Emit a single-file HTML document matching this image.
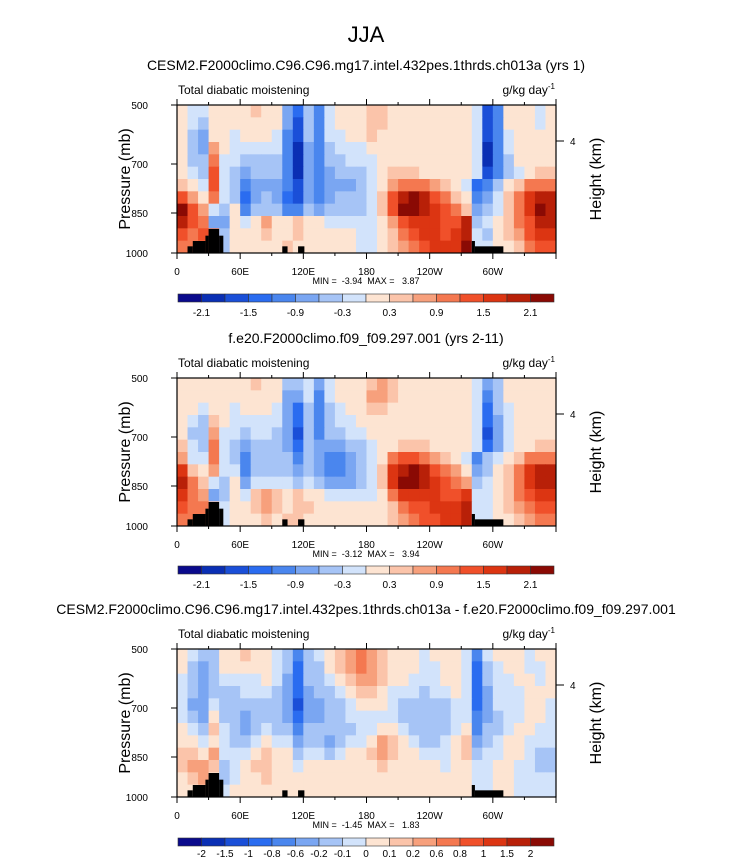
<!DOCTYPE html>
<html><head><meta charset="utf-8"><style>
body{margin:0;background:#fff;}
svg{display:block;font-family:"Liberation Sans",sans-serif;}
</style></head><body>
<svg id="fig" width="732" height="861" viewBox="0 0 732 861">
<text x="366" y="42" font-size="22" text-anchor="middle">JJA</text>
</svg>
<script>
const lonTicks=[0,60,120,180,240,300];
const lonLabels=["0","60E","120E","180","120W","60W"];
const presTicks=[500,700,850,1000];
const cb1Labels=["-2.1","-1.5","-0.9","-0.3","0.3","0.9","1.5","2.1"];
const cb3Labels=["-2","-1.5","-1","-0.8","-0.6","-0.2","-0.1","0","0.1","0.2","0.6","0.8","1","1.5","2"];
const titles=["CESM2.F2000climo.C96.C96.mg17.intel.432pes.1thrds.ch013a (yrs 1)","f.e20.F2000climo.f09_f09.297.001 (yrs 2-11)","CESM2.F2000climo.C96.C96.mg17.intel.432pes.1thrds.ch013a - f.e20.F2000climo.f09_f09.297.001"];
const minMax=["MIN =  -3.94  MAX =   3.87","MIN =  -3.12  MAX =   3.94","MIN =  -1.45  MAX =   1.83"];
const grid1=[
"877888 898853 647888 998888 888872 488878",
"876888 888852 647888 998888 888872 488878",
"865887 888742 647788 988888 888872 478888",
"865a87 777741 546777 888888 888871 478888",
"866b77 666641 546677 788888 888871 468888",
"876c76 566641 545666 789998 888872 467899",
"987c76 455542 545556 78abbb a98734 689bbb",
"ca8b76 356532 545666 79cefe cb9845 79bdee",
"fca768 466644 656666 79cffe dcb956 79bdfe",
"ecb558 78a889 887777 78acdd dcce67 89bcee",
"cbcb68 889889 888887 789bcd dcde76 89acdd",
"bbbb68 888898 888887 789abc dddf77 889bcc"];
const grid2=[
"888888 898866 757888 9a9888 888875 688888",
"888888 888855 747888 aa9888 888874 688888",
"887887 888753 646788 998888 888873 678888",
"876987 777753 646778 888888 888873 578888",
"866a77 677652 646677 888888 888872 578888",
"976b76 566653 655566 788999 888873 578899",
"a77b76 466664 654456 78bccb a98746 789bbb",
"d98a77 466665 654456 79defe cba856 89bdee",
"eb9768 577776 765556 79dffe dcba67 89bdee",
"dba568 79a989 887777 78bddd dccd77 89bcdd",
"cbb978 89a989 988888 889bcc ddde77 89abcc",
"bbba78 889899 888888 889abc cdde77 889abb"];
const grid3=[
"876688 988764 6789ab a98887 888747 888788",
"865688 888763 6689ab a98887 788736 788778",
"765677 778753 66789a a98877 788736 778878",
"765666 777653 566789 987776 778735 777888",
"755766 666652 556678 887666 667735 777887",
"765866 566653 556677 777666 667745 677887",
"876976 567664 666667 788766 667846 678877",
"887876 678775 665677 8a9876 678956 788777",
"998a77 789886 776788 9a9887 778967 788766",
"9aa967 899887 888888 898888 878877 887766",
"89a867 889888 888888 888888 888877 887777",
"889878 888888 888888 888888 888877 887777"];
const terrainLon=[[10,15],[15,27],[27,30],[30,40],[40,44],[100,105],[115,121],[280,283],[283,310]];
const terrainP=[975,955,935,910,935,975,975,955,975];
const colors=["#0a0a8c","#0a2fb4","#1a4fd8","#2a6cf0","#4a86ee","#7aa6f2","#a6c4f6","#d2e3fb","#fde4d2","#fbc4aa","#f7a07c","#f47850","#f0502a","#dc3512","#b82008","#8a0a04"];
const NS="http://www.w3.org/2000/svg";
const svg=document.getElementById('fig');
function el(t,a,p){const e=document.createElementNS(NS,t);for(const k in a)e.setAttribute(k,a[k]);(p||svg).appendChild(e);return e;}
const X0=177,X1=556,PH=148;
function xLon(l){return X0+l/360*(X1-X0);}
const pPix=[0,59,108,148];
function yP(top,p){for(let i=0;i<3;i++){if(p<=presTicks[i+1]){const f=(p-presTicks[i])/(presTicks[i+1]-presTicks[i]);return top+pPix[i]+f*(pPix[i+1]-pPix[i]);}}return top+PH;}
function fixRow(r){r=r.replace(/\s/g,'');while(r.length<36)r+=r[r.length-1];return r.slice(0,36);}
const panels=[{top:105,grid:grid1,cb:cb1Labels,ty:70,cby:294},{top:378,grid:grid2,cb:cb1Labels,ty:343,cby:566},{top:649,grid:grid3,cb:cb3Labels,ty:614,cby:838}];
panels.forEach((P,pi)=>{
  const g=el('g',{});
  
  
  const t=el('text',{x:366,y:P.ty,'font-size':14,'text-anchor':'middle'},g);t.textContent=titles[pi];
  
  const top=P.top;
  const nr=P.grid.length, rh=PH/nr;
  P.grid.forEach((row,ri)=>{
    row=fixRow(row);
    for(let ci=0;ci<36;ci++){
      const v=parseInt(row[ci],16);
      const r=el('rect',{x:xLon(ci*10),y:top+ri*rh,width:xLon(ci*10+10)-xLon(ci*10)+0.5,height:rh+0.5,fill:colors[v]},g);
      
      
    }
  });
  terrainLon.forEach((tl,i)=>{
    const y=yP(top,terrainP[i]);
    const r=el('rect',{x:xLon(tl[0]),y:y,width:xLon(tl[1])-xLon(tl[0]),height:top+PH-y,fill:'#000'},g);
    
    
  });
  el('rect',{x:X0,y:top,width:X1-X0,height:PH,fill:'none',stroke:'#000','stroke-width':1.2},g);
  const lt=el('text',{x:178,y:top-11,'font-size':12},g);lt.textContent='Total diabatic moistening';
  
  const ut=el('text',{x:555,y:top-11,'font-size':12,'text-anchor':'end'},g);ut.innerHTML='g/kg day<tspan font-size="8" dy="-5">-1</tspan>';
  
  for(let l=0;l<=360;l+=30){
    const x=xLon(l),L=(l%60==0)?6:3;
    el('line',{x1:x,x2:x,y1:top+PH,y2:top+PH+L,stroke:'#000'},g);
    el('line',{x1:x,x2:x,y1:top,y2:top-L,stroke:'#000'},g);
  }
  lonTicks.forEach((l,i)=>{const tx=el('text',{x:xLon(l),y:top+PH+22,'font-size':10,'text-anchor':'middle'},g);tx.textContent=lonLabels[i];
    });
  presTicks.forEach(p=>{const y=yP(top,p);el('line',{x1:X0,x2:X0-6,y1:y,y2:y,stroke:'#000'},g);
    const tx=el('text',{x:148,y:y+4,'font-size':10,'text-anchor':'end'},g);tx.textContent=p;
    });
  const yt=el('text',{transform:`translate(130,${top+74}) rotate(-90)`,'font-size':16,'text-anchor':'middle'},g);yt.textContent='Pressure (mb)';
  
  el('line',{x1:X1,x2:X1+8,y1:top+36,y2:top+36,stroke:'#000'},g);
  const h4=el('text',{x:570,y:top+40,'font-size':10},g);h4.textContent='4';
  const ht=el('text',{transform:`translate(601,${top+74}) rotate(-90)`,'font-size':16,'text-anchor':'middle'},g);ht.textContent='Height (km)';
  
  const mm=el('text',{x:366,y:top+PH+31,'font-size':9,'text-anchor':'middle',style:'white-space:pre'},g);mm.textContent=minMax[pi];
  
  const cbg=el('g',{},g);
  
  
  const cx0=178,cw=(554-178)/16;
  colors.forEach((c,i)=>{el('rect',{x:cx0+i*cw,y:P.cby,width:cw,height:8,fill:c,stroke:'#333','stroke-width':0.6},cbg);});
  if(P.cb.length==8){P.cb.forEach((s,i)=>{const tx=el('text',{x:cx0+(2*i+1)*cw,y:P.cby+22,'font-size':10,'text-anchor':'middle'},cbg);tx.textContent=s;});}
  else{P.cb.forEach((s,i)=>{const tx=el('text',{x:cx0+(i+1)*cw,y:P.cby+19,'font-size':10,'text-anchor':'middle'},cbg);tx.textContent=s;});}
});
</script>
</body></html>
